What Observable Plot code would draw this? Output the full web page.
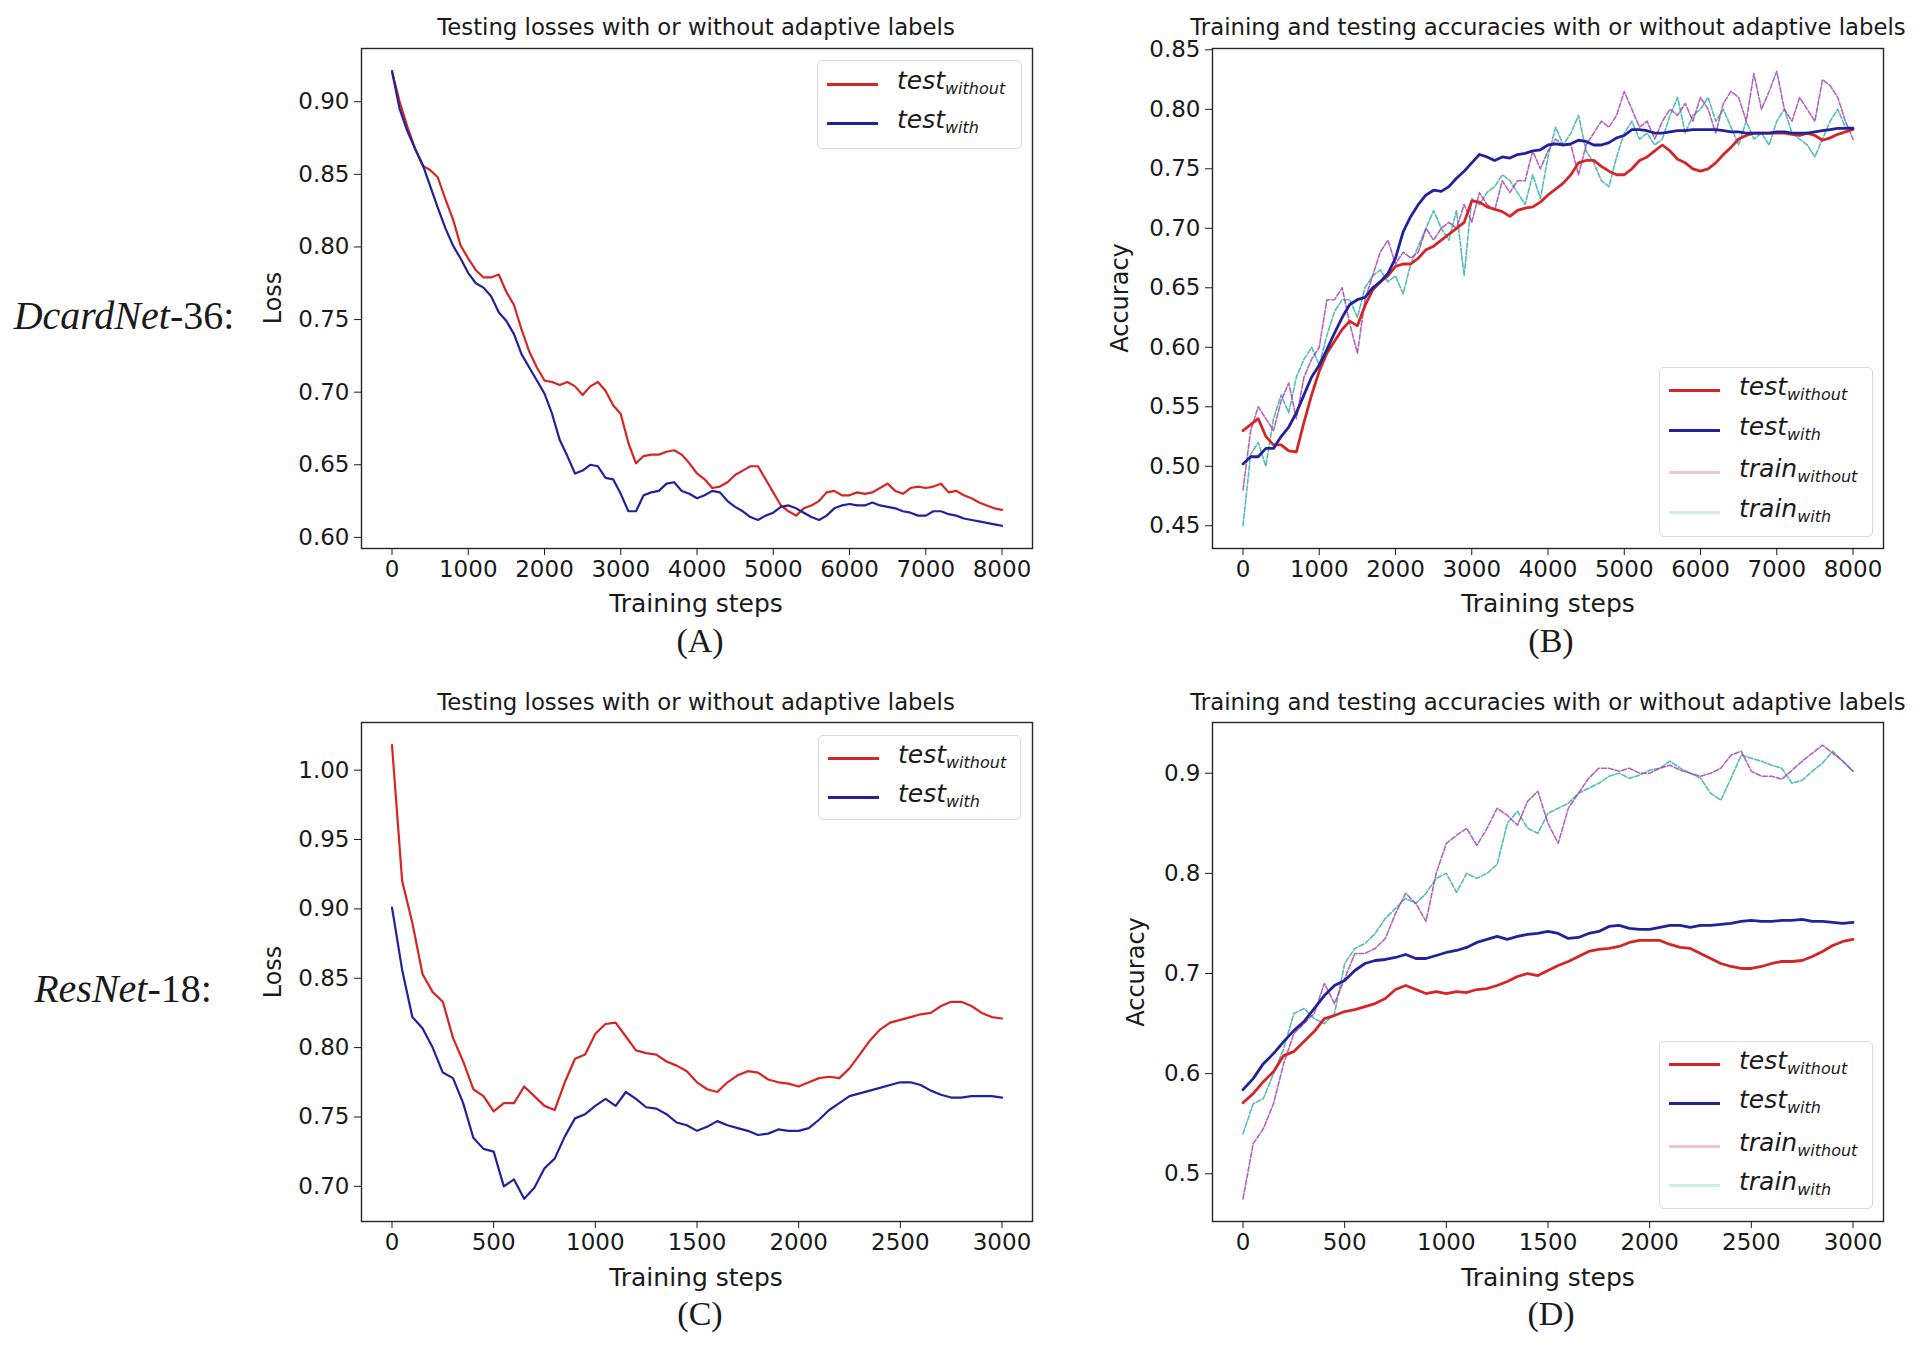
<!DOCTYPE html>
<html><head><meta charset="utf-8">
<script src="https://cdn.jsdelivr.net/npm/d3@7"></script>
<script src="https://cdn.jsdelivr.net/npm/@observablehq/plot@0.6"></script>
<style>
body{margin:0;background:#fff;}
#root{position:relative;width:1920px;height:1352px;overflow:hidden;background:#fff;font-family:"DejaVu Sans",sans-serif;color:#1a1a1a;}
.t{position:absolute;white-space:nowrap;line-height:1;}
.serif{font-family:"Liberation Serif","Times New Roman",serif;}
.leg{position:absolute;border:1.5px solid #d9d9d9;border-radius:5px;background:rgba(255,255,255,0.85);}
.leg .h{position:absolute;height:3px;}
.leg .l{position:absolute;font-style:italic;font-size:25px;white-space:nowrap;line-height:1;transform:translateY(-55%);}
.leg sub{font-size:16px;vertical-align:-5px;}
</style></head><body><div id="root"></div>
<script>
// ---------- data ----------
const stepsA = d3.range(0, 8001, 100);
const stepsC = d3.range(0, 3001, 50);

const lossA_without = [0.921,0.900,0.883,0.868,0.856,0.853,0.848,0.833,0.819,0.801,
0.792,0.784,0.779,0.779,0.781,0.769,0.760,0.743,0.728,0.717,
0.708,0.707,0.705,0.707,0.704,0.698,0.704,0.707,0.701,0.691,
0.685,0.665,0.651,0.656,0.657,0.657,0.659,0.660,0.657,0.651,
0.644,0.640,0.634,0.635,0.638,0.643,0.646,0.649,0.649,0.640,
0.631,0.622,0.618,0.615,0.620,0.622,0.625,0.631,0.632,0.629,
0.629,0.631,0.630,0.631,0.634,0.637,0.632,0.630,0.634,0.635,
0.634,0.635,0.637,0.631,0.632,0.629,0.627,0.624,0.622,0.620,0.619];
const lossA_with = [0.921,0.895,0.880,0.868,0.857,0.842,0.827,0.813,0.801,0.792,
0.782,0.775,0.772,0.766,0.755,0.749,0.740,0.726,0.717,0.708,
0.699,0.685,0.667,0.656,0.644,0.646,0.650,0.649,0.641,0.640,
0.630,0.618,0.618,0.629,0.631,0.632,0.637,0.638,0.632,0.630,
0.627,0.629,0.632,0.631,0.625,0.621,0.618,0.614,0.612,0.615,
0.617,0.621,0.622,0.620,0.617,0.614,0.612,0.615,0.620,0.622,
0.623,0.622,0.622,0.624,0.622,0.621,0.620,0.618,0.617,0.615,
0.615,0.618,0.618,0.616,0.615,0.613,0.612,0.611,0.610,0.609,0.608];

const accB_test_without = [0.530,0.535,0.540,0.525,0.518,0.518,0.513,0.512,0.537,0.560,
0.580,0.595,0.605,0.615,0.622,0.618,0.635,0.648,0.655,0.660,
0.668,0.670,0.670,0.675,0.682,0.685,0.690,0.695,0.700,0.705,
0.723,0.722,0.718,0.716,0.714,0.710,0.715,0.717,0.718,0.722,
0.728,0.733,0.738,0.745,0.755,0.757,0.757,0.752,0.748,0.745,
0.745,0.750,0.757,0.760,0.765,0.770,0.765,0.758,0.755,0.750,
0.748,0.750,0.755,0.762,0.768,0.775,0.778,0.780,0.780,0.780,
0.780,0.780,0.779,0.778,0.780,0.778,0.774,0.776,0.779,0.781,0.783];
const accB_test_with = [0.502,0.508,0.508,0.515,0.515,0.525,0.533,0.545,0.560,0.575,
0.585,0.598,0.612,0.625,0.636,0.640,0.642,0.650,0.655,0.662,
0.675,0.697,0.710,0.720,0.728,0.732,0.731,0.735,0.742,0.748,
0.755,0.762,0.760,0.757,0.760,0.759,0.762,0.763,0.765,0.766,
0.770,0.771,0.770,0.771,0.774,0.773,0.770,0.770,0.772,0.776,
0.778,0.783,0.783,0.782,0.780,0.780,0.781,0.782,0.782,0.783,
0.783,0.783,0.783,0.782,0.781,0.781,0.780,0.780,0.780,0.780,
0.781,0.781,0.780,0.780,0.780,0.781,0.782,0.783,0.784,0.784,0.784];
const accB_train_without = [0.480,0.530,0.550,0.540,0.530,0.555,0.570,0.540,0.575,0.590,
0.600,0.640,0.640,0.650,0.620,0.595,0.640,0.660,0.680,0.690,
0.670,0.680,0.675,0.680,0.700,0.690,0.700,0.705,0.700,0.720,
0.705,0.730,0.720,0.715,0.740,0.730,0.740,0.740,0.765,0.750,
0.765,0.775,0.770,0.770,0.745,0.770,0.780,0.790,0.785,0.795,
0.815,0.800,0.785,0.790,0.775,0.790,0.800,0.795,0.805,0.790,
0.810,0.800,0.780,0.805,0.815,0.810,0.790,0.830,0.800,0.815,
0.832,0.800,0.790,0.810,0.800,0.790,0.825,0.820,0.810,0.790,0.775];
const accB_train_with = [0.450,0.510,0.520,0.500,0.540,0.560,0.545,0.575,0.590,0.600,
0.585,0.610,0.630,0.640,0.640,0.625,0.650,0.660,0.665,0.655,
0.660,0.645,0.670,0.685,0.700,0.715,0.700,0.690,0.715,0.660,
0.725,0.720,0.730,0.735,0.745,0.740,0.730,0.720,0.745,0.725,
0.760,0.785,0.770,0.780,0.795,0.765,0.755,0.740,0.735,0.760,
0.780,0.790,0.775,0.780,0.770,0.775,0.795,0.810,0.780,0.795,
0.800,0.810,0.790,0.800,0.785,0.770,0.790,0.775,0.780,0.770,
0.790,0.800,0.780,0.775,0.770,0.760,0.775,0.790,0.800,0.785,0.785];

const lossC_without = [1.018,0.920,0.890,0.853,0.840,0.833,0.807,0.790,0.770,0.765,
0.754,0.760,0.760,0.772,0.765,0.758,0.755,0.775,0.792,0.795,
0.810,0.817,0.818,0.808,0.798,0.796,0.795,0.790,0.787,0.783,
0.775,0.770,0.768,0.775,0.780,0.783,0.782,0.777,0.775,0.774,
0.772,0.775,0.778,0.779,0.778,0.785,0.795,0.805,0.813,0.818,
0.820,0.822,0.824,0.825,0.830,0.833,0.833,0.830,0.825,0.822,0.821];
const lossC_with = [0.901,0.856,0.822,0.814,0.800,0.782,0.778,0.760,0.735,0.727,
0.725,0.700,0.705,0.691,0.699,0.713,0.720,0.736,0.749,0.752,
0.758,0.763,0.758,0.768,0.763,0.757,0.756,0.752,0.746,0.744,
0.740,0.743,0.747,0.744,0.742,0.740,0.737,0.738,0.741,0.740,
0.740,0.742,0.748,0.755,0.760,0.765,0.767,0.769,0.771,0.773,
0.775,0.775,0.773,0.769,0.766,0.764,0.764,0.765,0.765,0.765,0.764];

const accD_test_without = [0.571,0.580,0.592,0.602,0.618,0.622,0.632,0.642,0.655,0.658,
0.662,0.664,0.667,0.670,0.675,0.684,0.688,0.684,0.680,0.682,
0.680,0.682,0.681,0.684,0.685,0.688,0.692,0.697,0.700,0.698,
0.703,0.708,0.712,0.717,0.722,0.724,0.725,0.727,0.731,0.733,
0.733,0.733,0.729,0.726,0.725,0.720,0.715,0.710,0.707,0.705,
0.705,0.707,0.710,0.712,0.712,0.713,0.717,0.722,0.728,0.732,0.734];
const accD_test_with = [0.584,0.595,0.610,0.620,0.632,0.643,0.652,0.665,0.678,0.688,
0.693,0.703,0.710,0.713,0.714,0.716,0.719,0.715,0.715,0.718,
0.721,0.723,0.726,0.731,0.734,0.737,0.734,0.737,0.739,0.740,
0.742,0.740,0.735,0.736,0.740,0.742,0.747,0.748,0.745,0.744,
0.744,0.746,0.748,0.748,0.746,0.748,0.748,0.749,0.750,0.752,
0.753,0.752,0.752,0.753,0.753,0.754,0.752,0.752,0.751,0.750,0.751];
const accD_train_without = [0.475,0.530,0.545,0.570,0.610,0.640,0.650,0.660,0.690,0.670,
0.695,0.720,0.720,0.725,0.735,0.760,0.780,0.770,0.752,0.800,
0.830,0.838,0.845,0.828,0.845,0.865,0.858,0.848,0.872,0.882,
0.850,0.830,0.865,0.880,0.895,0.905,0.905,0.902,0.905,0.900,
0.900,0.905,0.908,0.903,0.900,0.897,0.900,0.905,0.918,0.922,
0.902,0.897,0.897,0.894,0.903,0.912,0.920,0.928,0.920,0.912,0.902];
const accD_train_with = [0.540,0.570,0.575,0.600,0.625,0.660,0.665,0.655,0.650,0.660,
0.710,0.725,0.730,0.740,0.755,0.765,0.775,0.770,0.780,0.795,
0.800,0.781,0.800,0.795,0.800,0.809,0.850,0.862,0.845,0.840,
0.860,0.865,0.870,0.880,0.885,0.890,0.897,0.900,0.895,0.898,
0.903,0.905,0.912,0.905,0.900,0.895,0.880,0.873,0.895,0.918,
0.915,0.912,0.908,0.905,0.890,0.893,0.902,0.910,0.922,0.912,0.902];

const ticksX8000 = [0,1000,2000,3000,4000,5000,6000,7000,8000];
const ticksX3000 = [0,500,1000,1500,2000,2500,3000];
const ticksYA = [0.60,0.65,0.70,0.75,0.80,0.85,0.90];
const ticksYB = [0.45,0.50,0.55,0.60,0.65,0.70,0.75,0.80,0.85];
const ticksYC = [0.70,0.75,0.80,0.85,0.90,0.95,1.00];
const ticksYD = [0.5,0.6,0.7,0.8,0.9];

const titleLoss = "Testing losses with or without adaptive labels";
const titleAcc = "Training and testing accuracies with or without adaptive labels";

const RED = "#d42626", BLUE = "#22229a", PURPLE = "#a447b6", TEAL = "#35b0ad";
const PINK_L = "#efc4d6", CYAN_L = "#cdeceb";

// ---------- helpers ----------
const root = document.getElementById("root");
function rows(steps, vals){ return steps.map((s,i)=>({step:s, v:vals[i]})); }
function padDomain(arr){ const [a,b]=d3.extent(arr); const m=(b-a)*0.05; return [a-m,b+m]; }

function panel(o){
  const ml=100, mr=12, mt=12, mb=60;
  const allV = o.series.flatMap(s=>s.vals);
  const xd = padDomain(o.steps);
  const yd = padDomain(allV);
  const marks = [];
  for (const s of o.series) {
    marks.push(Plot.line(rows(o.steps, s.vals), {x:"step", y:"v", stroke:s.color, strokeWidth:s.w,
      strokeOpacity:s.op ?? 1, strokeDasharray:s.dash ?? null, curve:"linear"}));
  }
  marks.push(Plot.frame({stroke:"#262626", strokeWidth:1.4}));
  marks.push(Plot.axisX({ticks:o.xTicks, tickFormat:d=>String(d), tickSize:7, tickPadding:5, fontSize:23, label:null}));
  marks.push(Plot.axisY({ticks:o.yTicks, tickFormat:o.yFmt, tickSize:7, tickPadding:5, fontSize:23, label:null}));
  const chart = Plot.plot({
    width:o.fw+ml+mr, height:o.fh+mt+mb,
    marginLeft:ml, marginRight:mr, marginTop:mt, marginBottom:mb,
    x:{domain:xd}, y:{domain:yd},
    style:{fontFamily:"DejaVu Sans", color:"#1a1a1a", background:"transparent", overflow:"visible"},
    marks
  });
  chart.style.position="absolute";
  chart.style.left=(o.left-ml)+"px";
  chart.style.top=(o.top-mt)+"px";
  root.appendChild(chart);
}

function text(html, cx, cy, css, rot){
  const d=document.createElement("div");
  d.className="t"+(css.serif?" serif":"");
  d.innerHTML=html;
  d.style.left=cx+"px"; d.style.top=cy+"px";
  d.style.fontSize=css.size+"px";
  if(css.style) d.style.fontStyle=css.style;
  d.style.transform="translate(-50%,-50%)"+(rot?" rotate(-90deg)":"");
  root.appendChild(d);
}

function legend(left, top, w, h, entries){
  const d=document.createElement("div");
  d.className="leg";
  d.style.left=left+"px"; d.style.top=top+"px"; d.style.width=w+"px"; d.style.height=h+"px";
  for(const e of entries){
    const hd=document.createElement("div");
    hd.className="h"; hd.style.left="9px"; hd.style.width="51px"; hd.style.top=(e.y-1.5)+"px";
    hd.style.background=e.color;
    d.appendChild(hd);
    const lb=document.createElement("div");
    lb.className="l"; lb.style.left="79px"; lb.style.top=e.y+"px";
    lb.innerHTML=e.label;
    d.appendChild(lb);
  }
  root.appendChild(d);
}

// ---------- panels ----------
const FW=671;
panel({left:361, top:48, fw:FW, fh:500, steps:stepsA, xTicks:ticksX8000, yTicks:ticksYA, yFmt:d3.format(".2f"),
  series:[{vals:lossA_without,color:RED,w:2.2},{vals:lossA_with,color:BLUE,w:2.2}]});
panel({left:1212, top:48, fw:FW, fh:500, steps:stepsA, xTicks:ticksX8000, yTicks:ticksYB, yFmt:d3.format(".2f"),
  series:[{vals:accB_train_with,color:TEAL,w:1.6,op:0.85,dash:"5,2"},{vals:accB_train_without,color:PURPLE,w:1.6,op:0.85,dash:"5,2"},
          {vals:accB_test_without,color:RED,w:2.8},{vals:accB_test_with,color:BLUE,w:2.8}]});
panel({left:361, top:722, fw:FW, fh:499, steps:stepsC, xTicks:ticksX3000, yTicks:ticksYC, yFmt:d3.format(".2f"),
  series:[{vals:lossC_without,color:RED,w:2.2},{vals:lossC_with,color:BLUE,w:2.2}]});
panel({left:1212, top:722, fw:FW, fh:499, steps:stepsC, xTicks:ticksX3000, yTicks:ticksYD, yFmt:d3.format(".1f"),
  series:[{vals:accD_train_with,color:TEAL,w:1.6,op:0.85,dash:"5,2"},{vals:accD_train_without,color:PURPLE,w:1.6,op:0.85,dash:"5,2"},
          {vals:accD_test_without,color:RED,w:2.8},{vals:accD_test_with,color:BLUE,w:2.8}]});

// ---------- titles & labels ----------
text(titleLoss, 696, 27, {size:22.8});
text(titleAcc, 1548, 27, {size:22.8});
text(titleLoss, 696, 702, {size:22.8});
text(titleAcc, 1548, 702, {size:22.8});
text("Training steps", 696, 603, {size:25});
text("Training steps", 1548, 603, {size:25});
text("Training steps", 696, 1277, {size:25});
text("Training steps", 1548, 1277, {size:25});
text("Loss", 273, 298, {size:24}, true);
text("Accuracy", 1120, 298, {size:24}, true);
text("Loss", 273, 972, {size:24}, true);
text("Accuracy", 1136, 972, {size:24}, true);
text("(A)", 700, 641, {size:34, serif:true});
text("(B)", 1551, 641, {size:34, serif:true});
text("(C)", 700, 1314, {size:34, serif:true});
text("(D)", 1551, 1314, {size:34, serif:true});
text("<i>DcardNet</i>-36:", 124, 316, {size:40, serif:true});
text("<i>ResNet</i>-18:", 123, 989, {size:40, serif:true});

// ---------- legends ----------
const Ltw = "test<sub>without</sub>", Ltwi = "test<sub>with</sub>";
const Lrw = "train<sub>without</sub>", Lrwi = "train<sub>with</sub>";
legend(817, 60, 203, 87, [{y:23,color:RED,label:Ltw},{y:62,color:BLUE,label:Ltwi}]);
legend(818, 735, 201, 83, [{y:22,color:RED,label:Ltw},{y:61,color:BLUE,label:Ltwi}]);
legend(1659, 367, 212, 168, [{y:22,color:RED,label:Ltw},{y:62,color:BLUE,label:Ltwi},{y:104,color:PINK_L,label:Lrw},{y:144,color:CYAN_L,label:Lrwi}]);
legend(1659, 1041, 212, 166, [{y:22,color:RED,label:Ltw},{y:61,color:BLUE,label:Ltwi},{y:104,color:PINK_L,label:Lrw},{y:143,color:CYAN_L,label:Lrwi}]);
</script>
</body></html>
